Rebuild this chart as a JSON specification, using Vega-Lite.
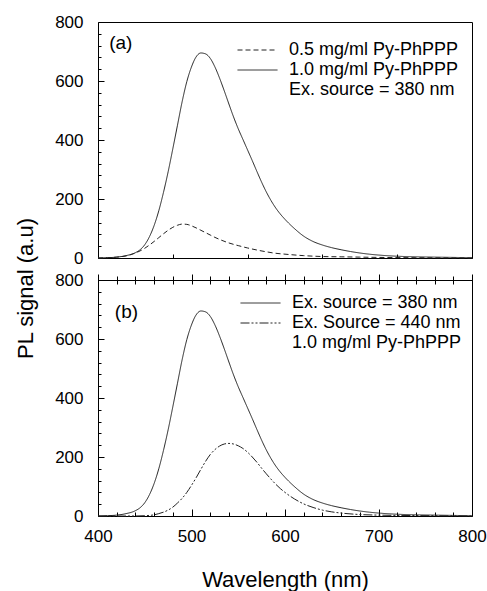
{
  "$schema": "https://vega.github.io/schema/vega-lite/v6.json",
  "padding": {"left": 13, "top": 12, "right": 5, "bottom": 5},
  "background": "white",
  "config": {
    "font": "Liberation Sans",
    "view": {"stroke": "#000", "strokeWidth": 1},
    "axis": {
      "labelFont": "Liberation Sans", "titleFont": "Liberation Sans",
      "labelFontSize": 17, "labelColor": "#000", "titleColor": "#000",
      "titleFontWeight": "normal", "titleFontSize": 22,
      "tickColor": "#000", "tickWidth": 1, "domain": false, "grid": false,
      "labelOverlap": false, "labelFlush": false, "labelBound": false
    },
    "legend": {
      "symbolType": "stroke", "symbolSize": 1600, "symbolStrokeWidth": 1,
      "clipHeight": 20, "labelFont": "Liberation Sans", "labelFontSize": 18,
      "labelColor": "#000", "labelOffset": 11, "rowPadding": 0, "padding": 0,
      "labelLimit": 400
    }
  },
  "datasets": {
    "spec": [
      {"p":"a","s":"1.0 mg/ml Py-PhPPP","w":400,"v":0},{"p":"a","s":"1.0 mg/ml Py-PhPPP","w":410,"v":1},{"p":"a","s":"1.0 mg/ml Py-PhPPP","w":420,"v":3},{"p":"a","s":"1.0 mg/ml Py-PhPPP","w":430,"v":8},{"p":"a","s":"1.0 mg/ml Py-PhPPP","w":440,"v":18},{"p":"a","s":"1.0 mg/ml Py-PhPPP","w":445,"v":28},{"p":"a","s":"1.0 mg/ml Py-PhPPP","w":450,"v":45},{"p":"a","s":"1.0 mg/ml Py-PhPPP","w":455,"v":72},{"p":"a","s":"1.0 mg/ml Py-PhPPP","w":460,"v":110},{"p":"a","s":"1.0 mg/ml Py-PhPPP","w":465,"v":160},{"p":"a","s":"1.0 mg/ml Py-PhPPP","w":470,"v":222},{"p":"a","s":"1.0 mg/ml Py-PhPPP","w":475,"v":292},{"p":"a","s":"1.0 mg/ml Py-PhPPP","w":480,"v":370},{"p":"a","s":"1.0 mg/ml Py-PhPPP","w":485,"v":450},{"p":"a","s":"1.0 mg/ml Py-PhPPP","w":490,"v":530},{"p":"a","s":"1.0 mg/ml Py-PhPPP","w":495,"v":598},{"p":"a","s":"1.0 mg/ml Py-PhPPP","w":500,"v":648},{"p":"a","s":"1.0 mg/ml Py-PhPPP","w":505,"v":682},{"p":"a","s":"1.0 mg/ml Py-PhPPP","w":510,"v":695},{"p":"a","s":"1.0 mg/ml Py-PhPPP","w":515,"v":692},{"p":"a","s":"1.0 mg/ml Py-PhPPP","w":520,"v":677},{"p":"a","s":"1.0 mg/ml Py-PhPPP","w":525,"v":648},{"p":"a","s":"1.0 mg/ml Py-PhPPP","w":530,"v":610},{"p":"a","s":"1.0 mg/ml Py-PhPPP","w":535,"v":567},{"p":"a","s":"1.0 mg/ml Py-PhPPP","w":540,"v":522},{"p":"a","s":"1.0 mg/ml Py-PhPPP","w":545,"v":478},{"p":"a","s":"1.0 mg/ml Py-PhPPP","w":550,"v":438},{"p":"a","s":"1.0 mg/ml Py-PhPPP","w":555,"v":402},{"p":"a","s":"1.0 mg/ml Py-PhPPP","w":560,"v":366},{"p":"a","s":"1.0 mg/ml Py-PhPPP","w":565,"v":330},{"p":"a","s":"1.0 mg/ml Py-PhPPP","w":570,"v":293},{"p":"a","s":"1.0 mg/ml Py-PhPPP","w":575,"v":257},{"p":"a","s":"1.0 mg/ml Py-PhPPP","w":580,"v":224},{"p":"a","s":"1.0 mg/ml Py-PhPPP","w":585,"v":195},{"p":"a","s":"1.0 mg/ml Py-PhPPP","w":590,"v":170},{"p":"a","s":"1.0 mg/ml Py-PhPPP","w":595,"v":149},{"p":"a","s":"1.0 mg/ml Py-PhPPP","w":600,"v":131},{"p":"a","s":"1.0 mg/ml Py-PhPPP","w":610,"v":100},{"p":"a","s":"1.0 mg/ml Py-PhPPP","w":620,"v":74},{"p":"a","s":"1.0 mg/ml Py-PhPPP","w":630,"v":56},{"p":"a","s":"1.0 mg/ml Py-PhPPP","w":640,"v":44},{"p":"a","s":"1.0 mg/ml Py-PhPPP","w":650,"v":35},{"p":"a","s":"1.0 mg/ml Py-PhPPP","w":660,"v":28},{"p":"a","s":"1.0 mg/ml Py-PhPPP","w":670,"v":22},{"p":"a","s":"1.0 mg/ml Py-PhPPP","w":680,"v":17},{"p":"a","s":"1.0 mg/ml Py-PhPPP","w":690,"v":13},{"p":"a","s":"1.0 mg/ml Py-PhPPP","w":700,"v":10},{"p":"a","s":"1.0 mg/ml Py-PhPPP","w":720,"v":6},{"p":"a","s":"1.0 mg/ml Py-PhPPP","w":740,"v":4},{"p":"a","s":"1.0 mg/ml Py-PhPPP","w":760,"v":3},{"p":"a","s":"1.0 mg/ml Py-PhPPP","w":780,"v":2},{"p":"a","s":"1.0 mg/ml Py-PhPPP","w":800,"v":1},
      {"p":"a","s":"0.5 mg/ml Py-PhPPP","w":400,"v":0},{"p":"a","s":"0.5 mg/ml Py-PhPPP","w":410,"v":1},{"p":"a","s":"0.5 mg/ml Py-PhPPP","w":420,"v":3},{"p":"a","s":"0.5 mg/ml Py-PhPPP","w":430,"v":7},{"p":"a","s":"0.5 mg/ml Py-PhPPP","w":440,"v":17},{"p":"a","s":"0.5 mg/ml Py-PhPPP","w":445,"v":24},{"p":"a","s":"0.5 mg/ml Py-PhPPP","w":450,"v":33},{"p":"a","s":"0.5 mg/ml Py-PhPPP","w":455,"v":44},{"p":"a","s":"0.5 mg/ml Py-PhPPP","w":460,"v":56},{"p":"a","s":"0.5 mg/ml Py-PhPPP","w":465,"v":69},{"p":"a","s":"0.5 mg/ml Py-PhPPP","w":470,"v":82},{"p":"a","s":"0.5 mg/ml Py-PhPPP","w":475,"v":94},{"p":"a","s":"0.5 mg/ml Py-PhPPP","w":480,"v":104},{"p":"a","s":"0.5 mg/ml Py-PhPPP","w":485,"v":111},{"p":"a","s":"0.5 mg/ml Py-PhPPP","w":490,"v":115},{"p":"a","s":"0.5 mg/ml Py-PhPPP","w":495,"v":114},{"p":"a","s":"0.5 mg/ml Py-PhPPP","w":500,"v":109},{"p":"a","s":"0.5 mg/ml Py-PhPPP","w":505,"v":102},{"p":"a","s":"0.5 mg/ml Py-PhPPP","w":510,"v":94},{"p":"a","s":"0.5 mg/ml Py-PhPPP","w":515,"v":86},{"p":"a","s":"0.5 mg/ml Py-PhPPP","w":520,"v":78},{"p":"a","s":"0.5 mg/ml Py-PhPPP","w":525,"v":70},{"p":"a","s":"0.5 mg/ml Py-PhPPP","w":530,"v":63},{"p":"a","s":"0.5 mg/ml Py-PhPPP","w":540,"v":51},{"p":"a","s":"0.5 mg/ml Py-PhPPP","w":550,"v":42},{"p":"a","s":"0.5 mg/ml Py-PhPPP","w":560,"v":34},{"p":"a","s":"0.5 mg/ml Py-PhPPP","w":570,"v":27},{"p":"a","s":"0.5 mg/ml Py-PhPPP","w":580,"v":21},{"p":"a","s":"0.5 mg/ml Py-PhPPP","w":590,"v":16},{"p":"a","s":"0.5 mg/ml Py-PhPPP","w":600,"v":13},{"p":"a","s":"0.5 mg/ml Py-PhPPP","w":620,"v":8},{"p":"a","s":"0.5 mg/ml Py-PhPPP","w":640,"v":5},{"p":"a","s":"0.5 mg/ml Py-PhPPP","w":660,"v":4},{"p":"a","s":"0.5 mg/ml Py-PhPPP","w":680,"v":3},{"p":"a","s":"0.5 mg/ml Py-PhPPP","w":700,"v":2},{"p":"a","s":"0.5 mg/ml Py-PhPPP","w":740,"v":1},{"p":"a","s":"0.5 mg/ml Py-PhPPP","w":800,"v":0},
      {"p":"b","s":"Ex. source = 380 nm","w":400,"v":0},{"p":"b","s":"Ex. source = 380 nm","w":410,"v":1},{"p":"b","s":"Ex. source = 380 nm","w":420,"v":3},{"p":"b","s":"Ex. source = 380 nm","w":430,"v":8},{"p":"b","s":"Ex. source = 380 nm","w":440,"v":18},{"p":"b","s":"Ex. source = 380 nm","w":445,"v":28},{"p":"b","s":"Ex. source = 380 nm","w":450,"v":45},{"p":"b","s":"Ex. source = 380 nm","w":455,"v":72},{"p":"b","s":"Ex. source = 380 nm","w":460,"v":110},{"p":"b","s":"Ex. source = 380 nm","w":465,"v":160},{"p":"b","s":"Ex. source = 380 nm","w":470,"v":222},{"p":"b","s":"Ex. source = 380 nm","w":475,"v":292},{"p":"b","s":"Ex. source = 380 nm","w":480,"v":370},{"p":"b","s":"Ex. source = 380 nm","w":485,"v":450},{"p":"b","s":"Ex. source = 380 nm","w":490,"v":530},{"p":"b","s":"Ex. source = 380 nm","w":495,"v":598},{"p":"b","s":"Ex. source = 380 nm","w":500,"v":648},{"p":"b","s":"Ex. source = 380 nm","w":505,"v":682},{"p":"b","s":"Ex. source = 380 nm","w":510,"v":695},{"p":"b","s":"Ex. source = 380 nm","w":515,"v":692},{"p":"b","s":"Ex. source = 380 nm","w":520,"v":677},{"p":"b","s":"Ex. source = 380 nm","w":525,"v":648},{"p":"b","s":"Ex. source = 380 nm","w":530,"v":610},{"p":"b","s":"Ex. source = 380 nm","w":535,"v":567},{"p":"b","s":"Ex. source = 380 nm","w":540,"v":522},{"p":"b","s":"Ex. source = 380 nm","w":545,"v":478},{"p":"b","s":"Ex. source = 380 nm","w":550,"v":438},{"p":"b","s":"Ex. source = 380 nm","w":555,"v":402},{"p":"b","s":"Ex. source = 380 nm","w":560,"v":366},{"p":"b","s":"Ex. source = 380 nm","w":565,"v":330},{"p":"b","s":"Ex. source = 380 nm","w":570,"v":293},{"p":"b","s":"Ex. source = 380 nm","w":575,"v":257},{"p":"b","s":"Ex. source = 380 nm","w":580,"v":224},{"p":"b","s":"Ex. source = 380 nm","w":585,"v":195},{"p":"b","s":"Ex. source = 380 nm","w":590,"v":170},{"p":"b","s":"Ex. source = 380 nm","w":595,"v":149},{"p":"b","s":"Ex. source = 380 nm","w":600,"v":131},{"p":"b","s":"Ex. source = 380 nm","w":610,"v":100},{"p":"b","s":"Ex. source = 380 nm","w":620,"v":74},{"p":"b","s":"Ex. source = 380 nm","w":630,"v":56},{"p":"b","s":"Ex. source = 380 nm","w":640,"v":44},{"p":"b","s":"Ex. source = 380 nm","w":650,"v":35},{"p":"b","s":"Ex. source = 380 nm","w":660,"v":28},{"p":"b","s":"Ex. source = 380 nm","w":670,"v":22},{"p":"b","s":"Ex. source = 380 nm","w":680,"v":17},{"p":"b","s":"Ex. source = 380 nm","w":690,"v":13},{"p":"b","s":"Ex. source = 380 nm","w":700,"v":10},{"p":"b","s":"Ex. source = 380 nm","w":720,"v":6},{"p":"b","s":"Ex. source = 380 nm","w":740,"v":4},{"p":"b","s":"Ex. source = 380 nm","w":760,"v":3},{"p":"b","s":"Ex. source = 380 nm","w":780,"v":2},{"p":"b","s":"Ex. source = 380 nm","w":800,"v":1},
      {"p":"b","s":"Ex. Source = 440 nm","w":400,"v":0},{"p":"b","s":"Ex. Source = 440 nm","w":440,"v":0},{"p":"b","s":"Ex. Source = 440 nm","w":450,"v":1},{"p":"b","s":"Ex. Source = 440 nm","w":460,"v":4},{"p":"b","s":"Ex. Source = 440 nm","w":465,"v":8},{"p":"b","s":"Ex. Source = 440 nm","w":470,"v":13},{"p":"b","s":"Ex. Source = 440 nm","w":475,"v":20},{"p":"b","s":"Ex. Source = 440 nm","w":480,"v":30},{"p":"b","s":"Ex. Source = 440 nm","w":485,"v":44},{"p":"b","s":"Ex. Source = 440 nm","w":490,"v":60},{"p":"b","s":"Ex. Source = 440 nm","w":495,"v":80},{"p":"b","s":"Ex. Source = 440 nm","w":500,"v":104},{"p":"b","s":"Ex. Source = 440 nm","w":505,"v":130},{"p":"b","s":"Ex. Source = 440 nm","w":510,"v":158},{"p":"b","s":"Ex. Source = 440 nm","w":515,"v":185},{"p":"b","s":"Ex. Source = 440 nm","w":520,"v":208},{"p":"b","s":"Ex. Source = 440 nm","w":525,"v":225},{"p":"b","s":"Ex. Source = 440 nm","w":530,"v":237},{"p":"b","s":"Ex. Source = 440 nm","w":535,"v":244},{"p":"b","s":"Ex. Source = 440 nm","w":540,"v":246},{"p":"b","s":"Ex. Source = 440 nm","w":545,"v":244},{"p":"b","s":"Ex. Source = 440 nm","w":550,"v":238},{"p":"b","s":"Ex. Source = 440 nm","w":555,"v":229},{"p":"b","s":"Ex. Source = 440 nm","w":560,"v":216},{"p":"b","s":"Ex. Source = 440 nm","w":565,"v":200},{"p":"b","s":"Ex. Source = 440 nm","w":570,"v":182},{"p":"b","s":"Ex. Source = 440 nm","w":575,"v":162},{"p":"b","s":"Ex. Source = 440 nm","w":580,"v":143},{"p":"b","s":"Ex. Source = 440 nm","w":585,"v":125},{"p":"b","s":"Ex. Source = 440 nm","w":590,"v":108},{"p":"b","s":"Ex. Source = 440 nm","w":595,"v":93},{"p":"b","s":"Ex. Source = 440 nm","w":600,"v":80},{"p":"b","s":"Ex. Source = 440 nm","w":610,"v":58},{"p":"b","s":"Ex. Source = 440 nm","w":620,"v":41},{"p":"b","s":"Ex. Source = 440 nm","w":630,"v":29},{"p":"b","s":"Ex. Source = 440 nm","w":640,"v":20},{"p":"b","s":"Ex. Source = 440 nm","w":650,"v":14},{"p":"b","s":"Ex. Source = 440 nm","w":660,"v":10},{"p":"b","s":"Ex. Source = 440 nm","w":680,"v":5},{"p":"b","s":"Ex. Source = 440 nm","w":700,"v":3},{"p":"b","s":"Ex. Source = 440 nm","w":720,"v":2},{"p":"b","s":"Ex. Source = 440 nm","w":760,"v":1},{"p":"b","s":"Ex. Source = 440 nm","w":800,"v":0}
    ]
  },
  "spacing": 22,
  "bounds": "flush",
  "resolve": {"scale": {"color": "independent", "strokeDash": "independent"}, "legend": {"color": "independent", "strokeDash": "independent"}},
  "vconcat": [
    {
      "width": 374,
      "height": 236,
      "data": {"name": "spec"},
      "transform": [{"filter": "datum.p === 'a'"}],
      "resolve": {"axis": {"y": "independent"}},
      "layer": [
        {
          "mark": {"type": "line", "strokeWidth": 1, "interpolate": "monotone"},
          "encoding": {
            "x": {"field": "w", "type": "quantitative", "scale": {"domain": [400, 800], "nice": false},
              "axis": {"orient": "bottom", "title": null, "labels": false,
                "values": [400,420,440,460,480,500,520,540,560,580,600,620,640,660,680,700,720,740,760,780,800],
                "tickSize": {"condition": {"test": "datum.value % 100 === 0", "value": -7}, "value": -4}}},
            "y": {"field": "v", "type": "quantitative", "scale": {"domain": [0, 800], "nice": false},
              "axis": {"orient": "left", "title": null, "values": [0, 200, 400, 600, 800], "labelPadding": 21, "tickSize": -6}},
            "color": {"field": "s", "type": "nominal",
              "scale": {"domain": ["0.5 mg/ml Py-PhPPP", "1.0 mg/ml Py-PhPPP", "Ex. source = 380 nm"], "range": ["#222", "#222", "transparent"]},
              "legend": {"orient": "none", "legendX": 139, "legendY": 18, "title": null}},
            "strokeDash": {"field": "s", "type": "nominal",
              "scale": {"domain": ["0.5 mg/ml Py-PhPPP", "1.0 mg/ml Py-PhPPP", "Ex. source = 380 nm"], "range": [[5, 3], [1, 0], [1, 0]]},
              "legend": {"orient": "none", "legendX": 139, "legendY": 18, "title": null}}
          }
        },
        {
          "data": {"values": [{}]},
          "mark": {"type": "text", "align": "left", "baseline": "middle", "fontSize": 19, "font": "Liberation Sans", "color": "#000"},
          "encoding": {
            "x": {"datum": 412, "type": "quantitative"},
            "y": {"datum": 729, "type": "quantitative",
              "axis": {"orient": "left", "title": null, "labels": false, "tickSize": -3,
                "values": [40,80,120,160,240,280,320,360,440,480,520,560,640,680,720,760]}},
            "text": {"value": "(a)"}
          }
        }
      ]
    },
    {
      "width": 374,
      "height": 236,
      "data": {"name": "spec"},
      "transform": [{"filter": "datum.p === 'b'"}],
      "resolve": {"axis": {"x": "independent", "y": "independent"}},
      "layer": [
        {
          "mark": {"type": "line", "strokeWidth": 1, "interpolate": "monotone"},
          "encoding": {
            "x": {"field": "w", "type": "quantitative", "scale": {"domain": [400, 800], "nice": false},
              "axis": {"orient": "bottom", "title": "Wavelength (nm)", "titlePadding": 22,
                "values": [400,420,440,460,480,500,520,540,560,580,600,620,640,660,680,700,720,740,760,780,800],
                "labelExpr": "datum.value % 100 === 0 ? datum.label : ''",
                "labelPadding": 19,
                "tickSize": {"condition": {"test": "datum.value % 100 === 0", "value": -7}, "value": -4}}},
            "y": {"field": "v", "type": "quantitative", "scale": {"domain": [0, 800], "nice": false},
              "axis": {"orient": "left", "title": "PL signal (a.u)", "titleX": -61, "titleY": 8,
                "values": [0, 200, 400, 600, 800], "labelPadding": 21, "tickSize": -6}},
            "color": {"field": "s", "type": "nominal",
              "scale": {"domain": ["Ex. source = 380 nm", "Ex. Source = 440 nm", "1.0 mg/ml Py-PhPPP"], "range": ["#222", "#222", "transparent"]},
              "legend": {"orient": "none", "legendX": 142, "legendY": 13, "title": null}},
            "strokeDash": {"field": "s", "type": "nominal",
              "scale": {"domain": ["Ex. source = 380 nm", "Ex. Source = 440 nm", "1.0 mg/ml Py-PhPPP"], "range": [[1, 0], [9, 2, 2, 2, 2, 2], [1, 0]]},
              "legend": {"orient": "none", "legendX": 142, "legendY": 13, "title": null}}
          }
        },
        {
          "data": {"values": [{}]},
          "mark": {"type": "text", "align": "left", "baseline": "middle", "fontSize": 19, "font": "Liberation Sans", "color": "#000"},
          "encoding": {
            "x": {"datum": 418, "type": "quantitative",
              "axis": {"orient": "top", "title": null, "labels": false, "offset": -4,
                "values": [400,420,440,460,480,500,520,540,560,580,600,620,640,660,680,700,720,740,760,780,800],
                "tickSize": {"condition": {"test": "datum.value % 100 === 0", "value": 10}, "value": 8}}},
            "y": {"datum": 692, "type": "quantitative",
              "axis": {"orient": "left", "title": null, "labels": false, "tickSize": -3,
                "values": [40,80,120,160,240,280,320,360,440,480,520,560,640,680,720,760]}},
            "text": {"value": "(b)"}
          }
        }
      ]
    }
  ]
}
